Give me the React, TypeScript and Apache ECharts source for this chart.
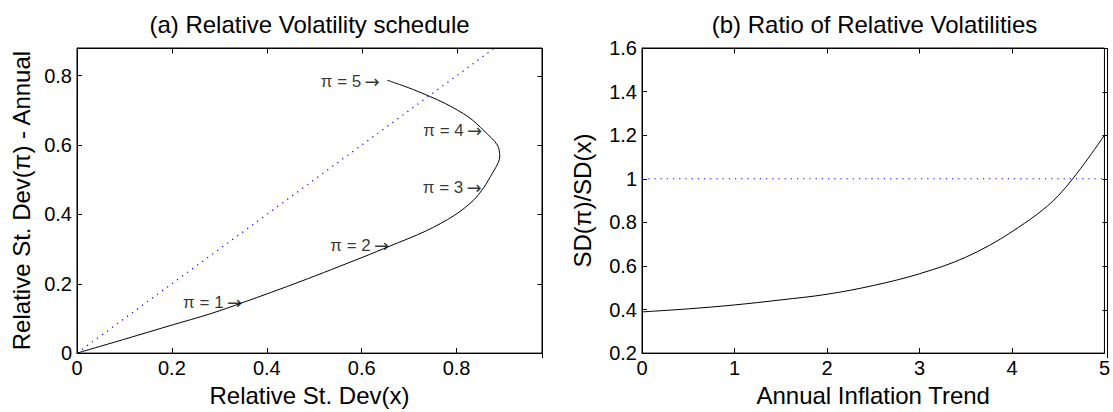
import React, { useEffect, useRef } from "react";
import * as echarts from "echarts";

// Panel (a): relative volatility schedule, traced as pi goes 0 -> 5
const relSdX = [0, 0.1, 0.203, 0.28, 0.35, 0.47, 0.603, 0.66, 0.735, 0.795, 0.835, 0.857, 0.876, 0.888, 0.891, 0.886, 0.858, 0.826, 0.776, 0.709, 0.654];
const relSdPi = [0, 0.04, 0.082, 0.113, 0.146, 0.206, 0.277, 0.309, 0.352, 0.397, 0.44, 0.477, 0.52, 0.55, 0.568, 0.6, 0.641, 0.68, 0.72, 0.76, 0.787];
// 45-degree reference line
const diagX = [0, 0.88];
const diagY = [0, 0.88];
// Annotations
const piLabels = ["π = 1", "π = 2", "π = 3", "π = 4", "π = 5"];
const piLabelX = [0.35, 0.66, 0.855, 0.856, 0.64];
const piLabelY = [0.146, 0.309, 0.477, 0.641, 0.783];

// Panel (b): ratio of relative volatilities
const inflationTrend = [0, 0.5, 1, 1.5, 2, 2.5, 3, 3.5, 4, 4.5, 5];
const volRatio = [0.389, 0.403, 0.421, 0.444, 0.47, 0.51, 0.564, 0.64, 0.757, 0.922, 1.2];
const refX = [0, 5];
const refY = [1, 1];

// Tick values (mirrored on the top / right frame)
const ticksAX = [0.2, 0.4, 0.6, 0.8];
const ticksAY = [0.2, 0.4, 0.6, 0.8];
const ticksBX = [1, 2, 3, 4];
const ticksBY = [0.4, 0.6, 0.8, 1, 1.2, 1.4];

const FONT = "'Liberation Sans', Arial, Helvetica, sans-serif";
const G = [
  { left: 77, top: 48, width: 465, height: 309 },
  { left: 642, top: 48, width: 465, height: 309 },
];

function zip(a: number[], b: number[]) {
  return a.map((v, i) => [v, b[i]]);
}

export default function App() {
  const ref = useRef<HTMLDivElement>(null);
  useEffect(() => {
    if (!ref.current) return;
    const chart = echarts.init(ref.current, undefined, { renderer: "svg" });
    const line = { show: true, onZero: false, lineStyle: { color: "#000", width: 1 } };
    const tick = { show: true, inside: true, length: 5, lineStyle: { color: "#000", width: 1 } };
    const lab = { color: "#000", fontSize: 20, fontFamily: FONT };
    const nameStyle = { color: "#000", fontSize: 24, fontFamily: FONT };
    const mkX = (gi: number, min: number, max: number, interval: number, name: string, showMax: boolean) => ({
      gridIndex: gi, type: "value", position: "bottom", min, max, interval,
      axisLine: line, axisTick: tick, splitLine: { show: false },
      axisLabel: { ...lab, margin: 5, showMaxLabel: showMax },
      name, nameLocation: "middle", nameGap: 27, nameTextStyle: nameStyle,
    });
    const mkY = (gi: number, min: number, max: number, interval: number, name: string, showMax: boolean, gap: number) => ({
      gridIndex: gi, type: "value", position: "left", min, max, interval,
      axisLine: line, axisTick: tick, splitLine: { show: false },
      axisLabel: { ...lab, margin: 5, showMaxLabel: showMax },
      name, nameLocation: "middle", nameGap: gap, nameTextStyle: nameStyle,
    });
    const titles: any[] = [
      {
        type: "text", x: G[0].left + G[0].width / 2, y: 24,
        style: { text: "(a) Relative Volatility schedule", fontSize: 24, fontFamily: FONT, fill: "#000", align: "center", verticalAlign: "middle" },
      },
      {
        type: "text", x: G[1].left + G[1].width / 2, y: 24,
        style: { text: "(b) Ratio of Relative Volatilities", fontSize: 24, fontFamily: FONT, fill: "#000", align: "center", verticalAlign: "middle" },
      },
    ];
    chart.setOption({
      animation: false,
      backgroundColor: "#fff",
      grid: G.map((g) => ({ ...g, show: true, borderColor: "#000", borderWidth: 1, backgroundColor: "transparent" })),
      xAxis: [
        mkX(0, 0, 0.98, 0.2, "Relative St. Dev(x)", false),
        mkX(1, 0, 5, 1, "Annual Inflation Trend", true),
      ],
      yAxis: [
        mkY(0, 0, 0.88, 0.2, "Relative St. Dev(π) - Annual", false, 44),
        mkY(1, 0.2, 1.6, 0.2, "SD(π)/SD(x)", true, 48),
      ],
      graphic: titles,
      series: [
        {
          type: "line", xAxisIndex: 0, yAxisIndex: 0, data: zip(relSdX, relSdPi),
          showSymbol: false, smooth: 0.3, lineStyle: { color: "#000", width: 1 }, silent: true,
        },
        {
          type: "line", xAxisIndex: 0, yAxisIndex: 0, data: zip(diagX, diagY),
          showSymbol: false, lineStyle: { color: "#0000ff", width: 1.2, type: [1.2, 5] }, silent: true,
        },
        {
          type: "scatter", xAxisIndex: 0, yAxisIndex: 0, symbolSize: 0, silent: true,
          data: piLabels.map((t, i) => ({ name: t, value: [piLabelX[i], piLabelY[i]] })),
          label: {
            show: true, position: "left", distance: 1,
            formatter: (p: any) => `{t|${p.name}} {r|→}`,
            rich: {
              t: { color: "#000", fontSize: 17, fontFamily: FONT },
              r: { color: "#000", fontSize: 18, fontFamily: "'DejaVu Sans', sans-serif" },
            },
          },
        },
        {
          type: "line", xAxisIndex: 1, yAxisIndex: 1, data: zip(inflationTrend, volRatio),
          showSymbol: false, smooth: 0.35, lineStyle: { color: "#000", width: 1 }, silent: true,
        },
        {
          type: "line", xAxisIndex: 1, yAxisIndex: 1, data: zip(refX, refY),
          showSymbol: false, lineStyle: { color: "#0000ff", width: 1.2, type: [1.2, 5] }, silent: true,
        },
      ],
    });

    // frame (top / right) with mirrored inward ticks, placed through the axes' scales
    const extra: any[] = [];
    const panels = [
      { xi: 0, yi: 0, tx: ticksAX, ty: ticksAY },
      { xi: 1, yi: 1, tx: ticksBX, ty: ticksBY },
    ];
    panels.forEach((p, k) => {
      const g = G[k];
      const top = g.top + 0.5;
      const right = g.left + g.width + 0.5;
      extra.push({ type: "line", silent: true, z: 50, shape: { x1: g.left, y1: top, x2: right, y2: top }, style: { stroke: "#000", lineWidth: 1 } });
      extra.push({ type: "line", silent: true, z: 50, shape: { x1: right, y1: g.top, x2: right, y2: g.top + g.height + 1 }, style: { stroke: "#000", lineWidth: 1 } });
      p.tx.forEach((v) => {
        const px = Math.round(Number(chart.convertToPixel({ xAxisIndex: p.xi }, v))) + 0.5;
        if (isFinite(px)) extra.push({ type: "line", silent: true, z: 50, shape: { x1: px, y1: top, x2: px, y2: top + 5 }, style: { stroke: "#000", lineWidth: 1 } });
      });
      p.ty.forEach((v) => {
        const py = Math.round(Number(chart.convertToPixel({ yAxisIndex: p.yi }, v))) + 0.5;
        if (isFinite(py)) extra.push({ type: "line", silent: true, z: 50, shape: { x1: right, y1: py, x2: right - 5, y2: py }, style: { stroke: "#000", lineWidth: 1 } });
      });
    });
    chart.setOption({ graphic: [...titles, ...extra] });
    return () => chart.dispose();
  }, []);
  return <div ref={ref} style={{ position: "fixed", left: 0, top: 0, width: 1113, height: 412 }} />;
}
